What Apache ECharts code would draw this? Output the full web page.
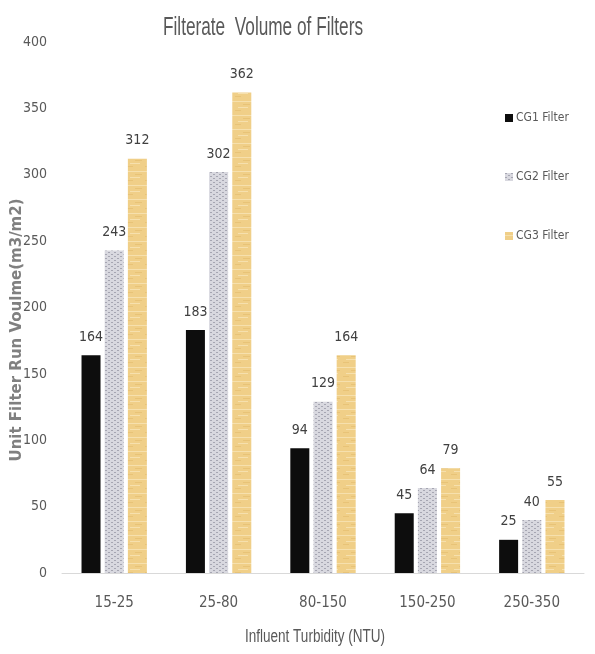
<!DOCTYPE html>
<html>
<head>
<meta charset="utf-8">
<script src="https://cdn.jsdelivr.net/npm/echarts@6/dist/echarts.min.js"></script>
<style>
  html, body { margin: 0; padding: 0; background: #fff; }
  #chart { width: 595px; height: 654px; }
</style>
</head>
<body>
<div id="chart"></div>
<script>
// Turbidity ranges and unit filter run volume per filter
const categories = ['15-25', '25-80', '80-150', '150-250', '250-350'];
const cg1Values = [164, 183, 94, 45, 25];
const cg2Values = [243, 302, 129, 64, 40];
const cg3Values = [312, 362, 164, 79, 55];
const yTicks = [0, 50, 100, 150, 200, 250, 300, 350, 400];

const NARROW = '"Liberation Sans Narrow", "DejaVu Sans Condensed", "Roboto", sans-serif';
const TITLE_FONT = '"Liberation Sans", sans-serif';

// Horizontal squeeze factor so a text fits a given width
function squeeze(text, font, targetWidth) {
  const g = document.createElement('canvas').getContext('2d');
  g.font = font;
  return targetWidth / g.measureText(text).width;
}

// Dotted grey fill
function dotPattern() {
  const c = document.createElement('canvas');
  c.width = 6; c.height = 4;
  const g = c.getContext('2d');
  g.fillStyle = '#d8d8df';
  g.fillRect(0, 0, 6, 4);
  g.fillStyle = '#a6a6b2';
  g.fillRect(0, 0, 2, 1);
  g.fillRect(3, 2, 2, 1);
  return c;
}
// Streaky tan fill
function tanPattern() {
  const c = document.createElement('canvas');
  c.width = 18; c.height = 14;
  const g = c.getContext('2d');
  g.fillStyle = '#f0cf88';
  g.fillRect(0, 0, 18, 14);
  g.fillStyle = '#f6e0ad';
  g.fillRect(0, 3, 18, 1);
  g.fillRect(4, 9, 10, 1);
  g.fillStyle = '#e8c377';
  g.fillRect(9, 6, 7, 1);
  g.fillRect(1, 12, 6, 1);
  return c;
}

const titleText = 'Filterate  Volume of Filters';
const xName = 'Influent Turbidity (NTU)';
const titleScale = squeeze(titleText, 'normal 26px ' + TITLE_FONT, 200);
const xNameScale = squeeze(xName, 'normal 18px ' + TITLE_FONT, 140);

const chart = echarts.init(document.getElementById('chart'), null, { renderer: 'canvas' });

const labelStyle = {
  show: true,
  position: 'top',
  distance: 11,
  color: '#404040',
  fontFamily: NARROW,
  fontSize: 14
};

chart.setOption({
  backgroundColor: '#ffffff',
  animation: false,
  legend: {
    orient: 'vertical',
    left: 500,
    top: 107,
    itemGap: 47,
    itemWidth: 8,
    itemHeight: 8,
    icon: 'rect',
    textStyle: { fontFamily: NARROW, fontSize: 12, color: '#595959', padding: [0, 0, 0, -2] },
    data: ['CG1 Filter', 'CG2 Filter', 'CG3 Filter']
  },
  grid: { left: 62, right: 11, top: 42, bottom: 81 },
  xAxis: {
    type: 'category',
    data: categories,
    axisLine: { lineStyle: { color: '#d9d9d9', width: 1 } },
    axisTick: { show: false },
    axisLabel: { fontFamily: NARROW, fontSize: 15, color: '#595959', margin: 23 }
  },
  yAxis: {
    type: 'value',
    min: yTicks[0],
    max: yTicks[yTicks.length - 1],
    interval: yTicks[1] - yTicks[0],
    axisLine: { show: false },
    axisTick: { show: false },
    splitLine: { show: false },
    axisLabel: { fontFamily: NARROW, fontSize: 14, color: '#595959', margin: 15 }
  },
  graphic: [
    {
      type: 'text',
      x: 263,
      y: 28,
      scaleX: titleScale,
      style: {
        text: titleText,
        font: 'normal 26px ' + TITLE_FONT,
        fill: '#595959',
        align: 'center',
        verticalAlign: 'middle'
      }
    },
    {
      type: 'text',
      x: 315,
      y: 637,
      scaleX: xNameScale,
      style: {
        text: xName,
        font: 'normal 18px ' + TITLE_FONT,
        fill: '#595959',
        align: 'center',
        verticalAlign: 'middle'
      }
    },
    {
      type: 'text',
      x: 10,
      y: 330,
      rotation: Math.PI / 2,
      style: {
        text: 'Unit Filter Run Voulme(m3/m2)',
        fontFamily: '"DejaVu Sans", sans-serif',
        fontWeight: 'bold',
        fontSize: 15,
        fill: '#808080',
        align: 'center',
        verticalAlign: 'top'
      }
    }
  ],
  series: [
    {
      name: 'CG1 Filter', type: 'bar', data: cg1Values,
      barWidth: 19, barGap: '22%',
      itemStyle: { color: '#0d0d0d' },
      label: labelStyle
    },
    {
      name: 'CG2 Filter', type: 'bar', data: cg2Values,
      barWidth: 19, barGap: '22%',
      itemStyle: { color: { image: dotPattern(), repeat: 'repeat' } },
      label: labelStyle
    },
    {
      name: 'CG3 Filter', type: 'bar', data: cg3Values,
      barWidth: 19, barGap: '22%',
      itemStyle: { color: { image: tanPattern(), repeat: 'repeat' } },
      label: labelStyle
    }
  ]
});
</script>
</body>
</html>
